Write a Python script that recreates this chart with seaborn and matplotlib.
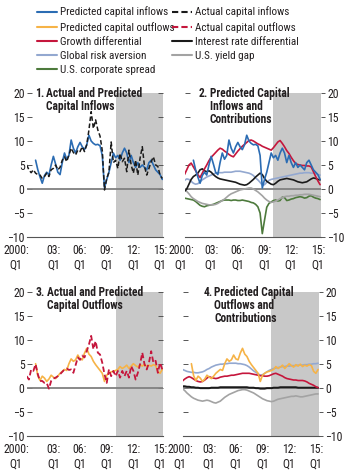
import numpy as np
import pandas as pd
import matplotlib
matplotlib.use("Agg")
import matplotlib.pyplot as plt
import seaborn as sns
from matplotlib import font_manager as fm
from matplotlib.lines import Line2D

sns.set_theme(style="white")

# pick a narrow sans face if one is installed
_faces = fm.fontManager.ttflist
_names = {f.name for f in _faces}
FONT_STRETCH = "normal"
if "Liberation Sans Narrow" in _names:
    FONT = "Liberation Sans Narrow"
elif "Roboto Condensed" in _names:
    FONT = "Roboto Condensed"
elif any(f.name == "DejaVu Sans" and f.stretch == "condensed" for f in _faces):
    FONT = "DejaVu Sans"
    FONT_STRETCH = "condensed"
else:
    FONT = "Liberation Sans"
plt.rcParams["font.family"] = [FONT, "DejaVu Sans"]
plt.rcParams["font.stretch"] = FONT_STRETCH
plt.rcParams["axes.unicode_minus"] = True

# ---- data (percent of GDP), quarterly 2000:Q1 - 2015:Q2 ----
quarters = pd.period_range("2000Q1", "2015Q2", freq="Q")
t_all = np.asarray(quarters.year + (quarters.quarter - 1) / 4, dtype=float)
t_pred = t_all[4:]  # model predictions start in 2001:Q1

actual_inflows = [
    5.0, 4.0, 3.4, 4.0, 3.3, 3.0, 2.9, 2.2, 2.6, 3.3, 2.6, 4.0,
    4.3, 5.0, 4.0, 4.5, 6.0, 6.7, 5.7, 7.1, 8.5, 7.6, 7.1, 8.1,
    7.8, 8.8, 7.8, 9.2, 12.3, 16.1, 12.6, 14.4, 12.3, 11.0, 8.0, -0.2,
    2.2, 3.5, 9.8, 5.5, 6.0, 4.3, 7.4, 5.7, 6.4, 3.6, 8.1, 5.0,
    3.3, 6.0, 2.9, 6.4, 8.8, 4.7, 2.9, 4.3, 5.7, 6.7, 5.0, 4.7,
    2.9, 2.2,
]
predicted_inflows = [
    6.0, 4.0, 2.5, 1.2, 2.8, 3.5, 2.9, 5.0, 6.8, 5.2, 3.5, 3.0,
    5.5, 7.5, 6.2, 7.0, 10.2, 8.5, 7.5, 8.8, 9.7, 8.8, 8.2, 9.2,
    11.2, 10.0, 9.5, 9.2, 9.3, 9.0, 7.0, 0.2, 2.0, 3.5, 5.5, 7.5,
    6.5, 7.0, 6.0, 7.5, 8.5, 7.5, 5.5, 7.0, 5.5, 4.5, 5.5, 4.5,
    5.0, 4.5, 4.0, 5.5, 6.0, 5.0, 4.0, 3.5, 3.0, 2.0,
]
actual_outflows = [
    2.4, 1.7, 3.8, 3.5, 4.9, 2.8, 1.4, 1.4, 1.0, 1.0, -0.2, 1.4,
    1.9, 2.1, 2.4, 2.8, 3.3, 3.8, 4.0, 3.7, 3.8, 3.1, 4.7, 6.3,
    5.8, 6.7, 6.3, 7.6, 9.0, 10.8, 8.0, 9.7, 7.3, 6.9, 5.2, 2.8,
    1.0, 3.8, 2.4, 3.5, 2.4, 3.5, 2.1, 3.5, 2.4, 3.5, 2.1, 4.5,
    3.5, 1.7, 3.1, 4.9, 7.3, 4.9, 3.8, 5.2, 7.6, 5.2, 5.6, 3.1,
    5.2, 3.8,
]
predicted_outflows = [
    5.0, 2.5, 1.5, 2.4, 2.0, 1.3, 1.8, 2.6, 2.2, 1.9, 2.4, 3.0,
    3.4, 3.8, 3.6, 5.0, 6.0, 5.5, 5.8, 6.8, 6.0, 5.8, 7.2, 8.2,
    7.0, 6.5, 5.5, 4.8, 4.2, 3.6, 3.0, 1.3, 2.6, 3.0, 3.3, 3.4,
    3.6, 3.8, 4.4, 4.0, 4.3, 4.7, 4.0, 4.5, 5.0, 4.6, 4.3, 4.8,
    4.5, 4.9, 4.4, 4.7, 4.5, 4.8, 4.6, 3.4, 3.0, 3.8,
]

# contributions to predicted inflows
growth_diff_in = [
    3.0, 4.0, 5.0, 5.4, 4.6, 3.8, 3.0, 2.4, 3.3, 4.2, 5.0, 5.9,
    6.6, 7.1, 7.6, 8.1, 8.5, 8.3, 7.9, 7.6, 7.2, 6.9, 6.7, 7.3,
    7.9, 8.4, 8.9, 9.3, 9.7, 10.1, 10.2, 10.0, 9.7, 9.4, 9.2, 8.9,
    8.7, 8.5, 8.3, 8.1, 8.6, 9.2, 9.8, 10.1, 9.5, 8.8, 8.0, 7.4,
    6.6, 5.9, 5.3, 5.1, 5.0, 4.9, 4.9, 4.8, 4.8, 4.6, 3.6, 2.6,
    1.7, 0.9,
]
interest_diff_in = [
    -0.5, 0.0, 1.0, 2.0, 2.6, 2.9, 3.3, 4.0, 4.2, 3.8, 3.6, 3.8,
    3.5, 3.0, 2.6, 2.3, 2.1, 2.0, 1.9, 1.8, 1.7, 1.6, 1.5, 1.4,
    1.2, 1.0, 0.9, 0.8, 0.9, 1.2, 1.6, 2.0, 2.5, 2.9, 3.3, 3.0,
    2.2, 1.6, 1.3, 1.0, 0.9, 1.2, 1.6, 1.9, 2.0, 2.1, 2.2, 2.1,
    2.0, 1.9, 1.7, 1.5, 1.4, 1.3, 1.4, 1.5, 1.8, 2.1, 2.3, 2.2,
    2.0, 1.9,
]
risk_aversion_in = [
    1.8, 2.1, 2.0, 1.6, 1.2, 1.0, 1.1, 1.5, 1.9, 2.2, 2.5, 2.7,
    2.9, 3.1, 3.3, 3.4, 3.4, 3.4, 3.5, 3.5, 3.5, 3.5, 3.6, 3.7,
    3.7, 3.7, 3.6, 3.5, 3.4, 3.3, 3.1, 2.8, 2.3, 1.9, 1.4, 0.8,
    0.9, 1.4, 1.8, 2.0, 2.1, 2.2, 2.3, 2.4, 2.5, 2.6, 2.7, 2.8,
    2.9, 3.0, 3.1, 3.2, 3.3, 3.3, 3.4, 3.4, 3.4, 3.3, 3.3, 3.2,
    3.0, 2.9,
]
yield_gap_in = [
    0.0, -0.5, -1.0, -1.6, -2.0, -2.3, -2.6, -2.8, -3.0, -3.1, -3.2, -3.3,
    -3.3, -3.3, -3.2, -3.0, -2.7, -2.4, -2.1, -1.7, -1.3, -1.0, -0.8, -0.6,
    -0.4, -0.2, -0.1, 0.0, 0.1, 0.2, 0.2, 0.0, -0.3, -0.6, -1.0, -1.4,
    -1.9, -2.3, -2.6, -2.8, -2.7, -2.5, -2.3, -2.0, -1.8, -1.6, -1.5, -1.5,
    -1.4, -1.4, -1.3, -1.3, -1.2, -1.2, -1.1, -1.1, -1.1, -1.2, -1.3, -1.4,
    -1.5, -1.6,
]
corp_spread_in = [
    -1.9, -2.0, -2.1, -2.2, -2.3, -2.6, -3.0, -3.4, -3.6, -3.7, -3.5, -3.4,
    -3.3, -3.2, -3.0, -2.8, -2.6, -2.4, -2.3, -2.3, -2.3, -2.4, -2.3, -2.3,
    -2.4, -2.4, -2.3, -2.4, -2.5, -2.6, -2.8, -2.9, -3.2, -3.7, -5.0, -9.3,
    -6.5, -3.8, -3.0, -2.7, -2.4, -2.3, -2.5, -2.4, -1.7, -1.8, -2.4, -2.3,
    -2.1, -2.0, -1.8, -1.7, -1.6, -1.7, -1.9, -1.8, -1.5, -1.4, -1.7, -1.9,
    -2.0, -2.2,
]

# contributions to predicted outflows
growth_diff_out = [
    1.4, 1.8, 2.1, 2.3, 2.1, 1.8, 1.5, 1.3, 1.2, 1.3, 1.6, 2.0,
    2.3, 2.1, 2.0, 1.9, 2.0, 2.2, 2.3, 2.4, 2.4, 2.5, 2.6, 2.6,
    2.7, 2.8, 2.9, 3.0, 3.0, 3.0, 3.0, 2.9, 2.8, 2.7, 2.6, 2.5,
    2.5, 2.4, 2.4, 2.5, 2.7, 2.9, 3.0, 2.8, 2.6, 2.4, 2.1, 1.9,
    1.8, 1.7, 1.6, 1.6, 1.5, 1.5, 1.5, 1.4, 1.2, 0.9, 0.7, 0.5,
    0.2, 0.0,
]
risk_aversion_out = [
    3.8, 3.6, 3.4, 3.3, 3.2, 3.2, 3.1, 3.1, 3.2, 3.3, 3.5, 3.8,
    4.0, 4.3, 4.5, 4.7, 4.8, 4.9, 4.9, 5.0, 5.0, 5.1, 5.1, 5.1,
    5.1, 5.0, 5.0, 4.9, 4.8, 4.6, 4.3, 3.9, 3.5, 3.2, 2.9, 2.6,
    2.7, 3.0, 3.3, 3.6, 3.8, 4.0, 4.1, 4.2, 4.3, 4.4, 4.4, 4.5,
    4.5, 4.6, 4.6, 4.6, 4.7, 4.7, 4.7, 4.8, 4.8, 4.9, 4.9, 5.0,
    5.0, 5.1,
]
interest_diff_out = [
    0.3, 0.3, 0.2, 0.2, 0.1, 0.1, 0.0, 0.0, -0.1, -0.1, -0.1, -0.1,
    -0.1, 0.0, 0.0, 0.0, 0.0, 0.1, 0.1, 0.1, 0.1, 0.1, 0.1, 0.1,
    0.1, 0.1, 0.1, 0.1, 0.1, 0.1, 0.0, 0.0, 0.0, -0.1, -0.1, -0.2,
    -0.2, -0.2, -0.1, -0.1, -0.1, 0.0, 0.0, 0.0, 0.1, 0.1, 0.1, 0.1,
    0.1, 0.1, 0.1, 0.1, 0.0, 0.0, 0.0, 0.0, 0.0, 0.0, 0.0, 0.0,
    0.0, 0.0,
]
yield_gap_out = [
    -0.2, -0.6, -1.1, -1.5, -1.9, -2.2, -2.4, -2.6, -2.7, -2.8, -2.7, -2.6,
    -2.7, -2.9, -3.1, -3.2, -3.0, -2.8, -2.4, -2.0, -1.7, -1.4, -1.2, -1.0,
    -0.8, -0.6, -0.5, -0.4, -0.4, -0.5, -0.7, -0.9, -1.1, -1.4, -1.7, -2.0,
    -2.3, -2.5, -2.7, -2.8, -2.9, -2.8, -2.6, -2.4, -2.3, -2.2, -2.1, -2.0,
    -1.9, -1.8, -1.8, -1.7, -1.8, -1.9, -1.9, -1.8, -1.7, -1.6, -1.5, -1.4,
    -1.3, -1.3,
]

x_ticks = [2000, 2003, 2006, 2009, 2012, 2015]
x_tick_labels = ["2000:\nQ1", "03:\nQ1", "06:\nQ1", "09:\nQ1", "12:\nQ1", "15:\nQ1"]
y_ticks = [-10, -5, 0, 5, 10, 15, 20]
forecast_start = 2010.0

# ---- styling ----
C_BLUE = "#2b6cb3"
C_ORANGE = "#f6b347"
C_RED = "#c5163c"
C_BLACK = "#1a1a1a"
C_RISK = "#93a8d0"
C_YIELD = "#a3a3a3"
C_GREEN = "#4d7a3c"
C_SHADE = "#c8c8c8"
C_ZERO = "#808080"
C_TEXT = "#231f20"
C_AXIS = "#555555"
FS = 8.5
X_END = 2015.33
PX = 0.72  # points per pixel at 100 dpi

W, H = 346, 470
fig = plt.figure(figsize=(W / 100, H / 100), dpi=100)
fig.patch.set_facecolor("white")


def make_axes(left_px, top_px, width_px=136.3, height_px=144):
    return fig.add_axes([left_px / W, (H - top_px - height_px) / H,
                         width_px / W, height_px / H])


ax1 = make_axes(26.7, 93)
ax2 = make_axes(184.5, 93)
ax3 = make_axes(26.7, 291.7)
ax4 = make_axes(182.5, 291.7)


def style_axes(ax, labels_right, first_dx):
    ax.set_facecolor("white")
    ax.set_xlim(2000, X_END)
    ax.set_ylim(-10, 20)
    ax.axvspan(forecast_start, X_END, color=C_SHADE, lw=0, zorder=0)
    ax.axhline(0, color=C_ZERO, lw=1.3, zorder=1)
    for side in ["left", "right", "top"]:
        ax.spines[side].set_visible(False)
    ax.spines["bottom"].set_color(C_AXIS)
    ax.spines["bottom"].set_linewidth(0.8)
    ax.set_xticks(x_ticks)
    ax.set_xticklabels([])
    ax.tick_params(axis="x", direction="in", length=3, width=0.7, color=C_AXIS)
    ax.set_yticks(y_ticks)
    ax.set_xlabel("")
    ax.set_ylabel("")
    ax.grid(False)
    if labels_right:
        ax.tick_params(axis="y", direction="in", length=3.5, width=0.7,
                       color=C_AXIS, left=True, right=False, labelleft=False)
        sec = ax.secondary_yaxis("right")
        sec.set_yticks(y_ticks)
        sec.tick_params(direction="out", length=3, width=0.7, color=C_AXIS,
                        pad=1.5, labelsize=FS, labelcolor=C_TEXT)
        sec.spines["right"].set_visible(False)
    else:
        ax.tick_params(axis="y", direction="in", length=3.5, width=0.7,
                       color=C_AXIS, left=True, right=True, labelleft=True,
                       pad=1.5, labelsize=FS, labelcolor=C_TEXT)
    for i, (xv, lab) in enumerate(zip(x_ticks, x_tick_labels)):
        dx = first_dx if i == 0 else 0
        ax.annotate(lab, xy=(xv, 0), xycoords=("data", "axes fraction"),
                    xytext=(dx * PX, -5), textcoords="offset points",
                    ha="center", va="top", fontsize=FS, color=C_TEXT,
                    linespacing=1.2, annotation_clip=False)


def panel_title(ax, num, text, x_px):
    kw = dict(xy=(0, 1), xycoords="axes fraction", textcoords="offset points",
              ha="left", va="top", fontsize=8.3, fontweight="bold",
              color=C_TEXT, linespacing=1.0, annotation_clip=False)
    ax.annotate(num, xytext=(x_px * PX, 6 * PX), **kw)
    ax.annotate(text, xytext=((x_px + 11) * PX, 6 * PX), **kw)


def draw(ax, t, vals, color, lw=1.2, ls="-", z=3):
    sns.lineplot(x=t, y=vals, ax=ax, color=color, lw=lw, linestyle=ls,
                 estimator=None, legend=False, zorder=z)


DASH = (0, (3, 1.6))

# Panel 1: inflows
style_axes(ax1, labels_right=False, first_dx=-10.5)
draw(ax1, t_pred, predicted_inflows, C_BLUE, z=3)
draw(ax1, t_all, actual_inflows, C_BLACK, lw=1.1, ls=DASH, z=4)
panel_title(ax1, "1.", "Actual and Predicted\nCapital Inflows", 8.3)

# Panel 2: inflow contributions
style_axes(ax2, labels_right=True, first_dx=-3.5)
draw(ax2, t_all, corp_spread_in, C_GREEN, z=2.5)
draw(ax2, t_all, yield_gap_in, C_YIELD, z=2.6)
draw(ax2, t_all, risk_aversion_in, C_RISK, z=2.7)
draw(ax2, t_all, interest_diff_in, C_BLACK, z=2.8)
draw(ax2, t_all, growth_diff_in, C_RED, z=2.9)
draw(ax2, t_pred, predicted_inflows, C_BLUE, z=3)
panel_title(ax2, "2.", "Predicted Capital\nInflows and\nContributions", 14)

# Panel 3: outflows
style_axes(ax3, labels_right=False, first_dx=-10.5)
draw(ax3, t_pred, predicted_outflows, C_ORANGE, z=3)
draw(ax3, t_all, actual_outflows, C_RED, lw=1.3, ls=DASH, z=4)
panel_title(ax3, "3.", "Actual and Predicted\nCapital Outflows", 9.3)

# Panel 4: outflow contributions
style_axes(ax4, labels_right=True, first_dx=-2.5)
draw(ax4, t_all, yield_gap_out, C_YIELD, z=2.6)
draw(ax4, t_all, risk_aversion_out, C_RISK, z=2.7)
draw(ax4, t_all, interest_diff_out, C_BLACK, lw=1.4, z=2.8)
draw(ax4, t_all, growth_diff_out, C_RED, z=2.9)
draw(ax4, t_pred, predicted_outflows, C_ORANGE, z=3)
panel_title(ax4, "4.", "Predicted Capital\nOutflows and\nContributions", 21)

# Legend in two columns across the top
def h(color, ls="-"):
    return Line2D([], [], color=color, lw=1.5, linestyle=ls)

col1 = [(h(C_BLUE), "Predicted capital inflows"),
        (h(C_ORANGE), "Predicted capital outflows"),
        (h(C_RED), "Growth differential"),
        (h(C_RISK), "Global risk aversion"),
        (h(C_GREEN), "U.S. corporate spread")]
col2 = [(h(C_BLACK, (0, (3, 1.5))), "Actual capital inflows"),
        (h(C_RED, (0, (3, 1.5))), "Actual capital outflows"),
        (h(C_BLACK), "Interest rate differential"),
        (h(C_YIELD), "U.S. yield gap")]

for items, x_px in [(col1, 37), (col2, 172)]:
    fig.legend([a for a, _ in items], [b for _, b in items],
               loc="upper left", bbox_to_anchor=(x_px / W, 1 - 6.5 / H),
               frameon=False, fontsize=8, handlelength=1.8,
               handletextpad=0.3, labelspacing=0.38, borderpad=0,
               borderaxespad=0, labelcolor=C_TEXT)

fig.savefig("out.png", dpi=100, facecolor="white")
